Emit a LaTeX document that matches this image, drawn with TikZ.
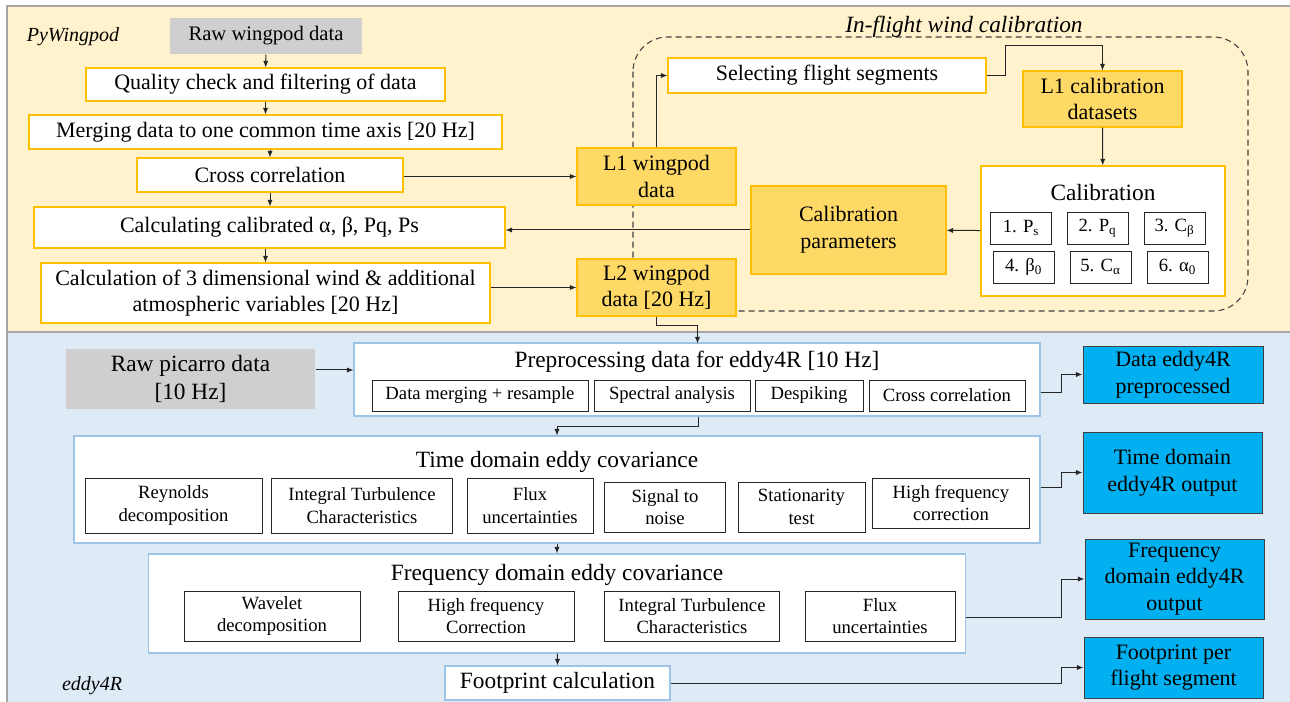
\documentclass[tikz,border=0pt]{standalone}
\usepackage{fontspec}
\setmainfont{Liberation Serif}
\usetikzlibrary{arrows.meta}
\definecolor{wpbg}{HTML}{FFF2CC}
\definecolor{edbg}{HTML}{DEEBF7}
\definecolor{gold}{HTML}{FFC000}
\definecolor{goldfill}{HTML}{FFD966}
\definecolor{rawgray}{HTML}{D0CECE}
\definecolor{outblue}{HTML}{00B0F0}
\definecolor{edline}{HTML}{9DC3E6}
\tikzset{
  sz/.style 2 args={minimum width=#1*0.75pt, minimum height=#2*0.75pt},
  boxbase/.style={inner sep=1pt, align=center, line width=0.8pt,
    font=\fontsize{16.5}{20}\selectfont},
  wpbox/.style={boxbase, draw=gold, fill=white},
  lvbox/.style={boxbase, draw=gold, fill=goldfill},
  rawbox/.style={boxbase, fill=rawgray, font=\fontsize{17.5}{21}\selectfont},
  edbox/.style={boxbase, draw=edline, fill=white},
  subbox/.style={boxbase, draw=black!85, fill=white, line width=0.7pt, font=\fontsize{14}{17}\selectfont},
  outbox/.style={boxbase, draw=black!75, line width=0.7pt, fill=outblue},
  ttl/.style={inner sep=0pt, font=\fontsize{17.5}{21}\selectfont},
  arr/.style={-{Latex[length=5pt,width=4pt]}, line width=0.75pt, black!85},
}
\begin{document}
\begin{tikzpicture}[x=0.75pt, y=-0.75pt]
  \def\jx{1061}
  \useasboundingbox (0,0) rectangle (1290,702);
  % backgrounds
  \draw[fill=wpbg, draw=black!35, line width=0.8pt] (7,6) rectangle (1296,332);
  \draw[fill=edbg, draw=black!35, line width=0.8pt] (7,332) rectangle (1296,710);
  \node[font=\fontsize{15}{18}\selectfont\itshape] (pyw) at (73,37) {PyWingpod};
  \node[font=\fontsize{15}{18}\selectfont\itshape] (e4r) at (92,686) {eddy4R};

  % PyWingpod chain
  \node[rawbox, sz={192}{36}, font=\fontsize{15.5}{19}\selectfont] (rawwp) at (266,36) {Raw wingpod data};
  \node[wpbox, sz={359}{33}] (qc) at (265.5,84.5) {Quality check and filtering of data};
  \node[wpbox, sz={473}{34}] (merge) at (265.5,132) {Merging data to one common time axis [20 Hz]};
  \node[wpbox, sz={266}{34}] (xcorr) at (270,175) {Cross correlation};
  \node[wpbox, sz={471}{41}] (calc) at (269.5,227.5) {Calculating calibrated α, β, Pq, Ps};
  \node[wpbox, sz={449}{60}] (wind) at (265.5,293) {Calculation of 3 dimensional wind \& additional\\atmospheric variables [20 Hz]};

  % in-flight calibration
  \draw[dash pattern=on 4.5pt off 3pt, rounded corners=26pt, line width=0.8pt, black!75] (633,37) rectangle (1248,311);
  \node[ttl, font=\fontsize{17.5}{21}\selectfont\itshape] (ifttl) at (964,27) {In-flight wind calibration};
  \node[wpbox, sz={318}{35}] (sel) at (827,75.5) {Selecting flight segments};
  \node[lvbox, sz={159}{56}] (l1cal) at (1102.5,99) {L1 calibration\\datasets};
  \node[lvbox, sz={159}{57}] (l1wp) at (656.5,176.5) {L1 wingpod\\data};
  \node[lvbox, sz={195}{88}] (calpar) at (848.5,230) {Calibration\\parameters};
  \node[lvbox, sz={159}{57}] (l2wp) at (656.5,287.5) {L2 wingpod\\data [20 Hz]};
  \node[wpbox, sz={244}{130}] (calib) at (1103,231) {};
  \node[ttl] (calibttl) at (1103,193) {Calibration};
  \node[subbox, sz={61}{32}] (c1) at (1021,228) {1. P\textsubscript{s}};
  \node[subbox, sz={61}{32}] (c2) at (1097.5,228) {2. P\textsubscript{q}};
  \node[subbox, sz={61}{32}] (c3) at (1174.5,228) {3. C\textsubscript{β}};
  \node[subbox, sz={61}{32}] (c4) at (1023.5,267) {4. β\textsubscript{0}};
  \node[subbox, sz={61}{32}] (c5) at (1100.5,267) {5. C\textsubscript{α}};
  \node[subbox, sz={61}{32}] (c6) at (1177.5,267) {6. α\textsubscript{0}};

  % eddy4R
  \node[rawbox, sz={249}{60}] (picarro) at (190.5,379) {Raw picarro data\\{[10 Hz]}};
  \node[edbox, sz={686}{73}] (pre) at (697,379.5) {};
  \node[ttl] (prettl) at (697,362) {Preprocessing data for eddy4R [10 Hz]};
  \node[subbox, sz={216}{31}] (p1) at (480,395.5) {Data merging + resample};
  \node[subbox, sz={156}{31}] (p2) at (672,395.5) {Spectral analysis};
  \node[subbox, sz={108}{31}] (p3) at (809,395.5) {Despiking};
  \node[subbox, sz={156}{31}] (p4) at (947,395.5) {Cross correlation};
  \node[outbox, sz={180}{57}] (outpre) at (1173,374.5) {Data eddy4R\\preprocessed};

  \node[edbox, sz={966}{107}] (time) at (557,489.5) {};
  \node[ttl] (timettl) at (557,462) {Time domain eddy covariance};
  \node[subbox, sz={177}{55}] (t1) at (173.5,505.5) {Reynolds\\decomposition};
  \node[subbox, sz={181}{55}] (t2) at (362,505.5) {Integral Turbulence\\Characteristics};
  \node[subbox, sz={126}{55}] (t3) at (530,505.5) {Flux\\uncertainties};
  \node[subbox, sz={121}{50}] (t4) at (665,507) {Signal to\\noise};
  \node[subbox, sz={127}{50}] (t5) at (801.5,507) {Stationarity\\test};
  \node[subbox, sz={157}{50}] (t6) at (951,503) {High frequency\\correction};
  \node[outbox, sz={179}{81}] (outtime) at (1172.5,472.5) {Time domain\\eddy4R output};

  \node[edbox, sz={817}{99}] (freq) at (557,603.5) {};
  \node[ttl] (freqttl) at (557,575) {Frequency domain eddy covariance};
  \node[subbox, sz={176}{50}] (f1) at (272,616) {Wavelet\\decomposition};
  \node[subbox, sz={176}{50}] (f2) at (486,616) {High frequency\\Correction};
  \node[subbox, sz={175}{50}] (f3) at (692,616) {Integral Turbulence\\Characteristics};
  \node[subbox, sz={150}{50}] (f4) at (880,616) {Flux\\uncertainties};
  \node[outbox, sz={179}{80}] (outfreq) at (1174.5,579) {Frequency\\domain eddy4R\\output};

  \node[edbox, sz={225}{34}, font=\fontsize{17.5}{21}\selectfont] (foot) at (557.5,683) {Footprint calculation};
  \node[outbox, sz={179}{61}] (outfoot) at (1173.5,667.5) {Footprint per\\flight segment};

  % connectors
  \draw[arr] (rawwp) -- (qc);
  \draw[arr] (qc) -- (merge);
  \draw[arr] (merge.south -| xcorr) -- (xcorr.north);
  \draw[arr] (xcorr) -- (xcorr |- calc.north);
  \draw[arr] (calc.south -| wind) -- (wind.north);
  \draw[arr] (l1wp.west -| xcorr.east) -- (l1wp.west);
  \draw[arr] (l1wp) |- (sel);
  \draw[arr] (sel.east) -| ++(19,-29.5) -| (l1cal.north);
  \draw[arr] (l1cal) -- (calib);
  \draw[arr] (calib) -- (calpar);
  \draw[arr] (calpar.west) -- (calpar.west -| calc.east);
  \draw[arr] (l2wp.west -| wind.east) -- (l2wp.west);
  \draw[arr] (l2wp.south) |- ++(41,9) -- ++(0,18);
  \draw[arr] (picarro.east |- 0,370) -- (pre.west |- 0,370);
  \draw[arr] (pre.east |- 0,393) -- (\jx,393) |- (outpre.west);
  \draw[arr] (pre.south) ++(1,0) -- ++(0,10) -| (time.north);
  \draw[arr] (time.east |- 0,488) -- (\jx,488) |- (outtime.west);
  \draw[arr] (time) -- (freq.north);
  \draw[arr] (freq.east |- 0,617) -- (\jx,617) |- (outfreq.west);
  \draw[arr] (freq) -- (foot.north);
  \draw[arr] (foot.east) -- (\jx,683) |- (outfoot.west);
\end{tikzpicture}
\end{document}
